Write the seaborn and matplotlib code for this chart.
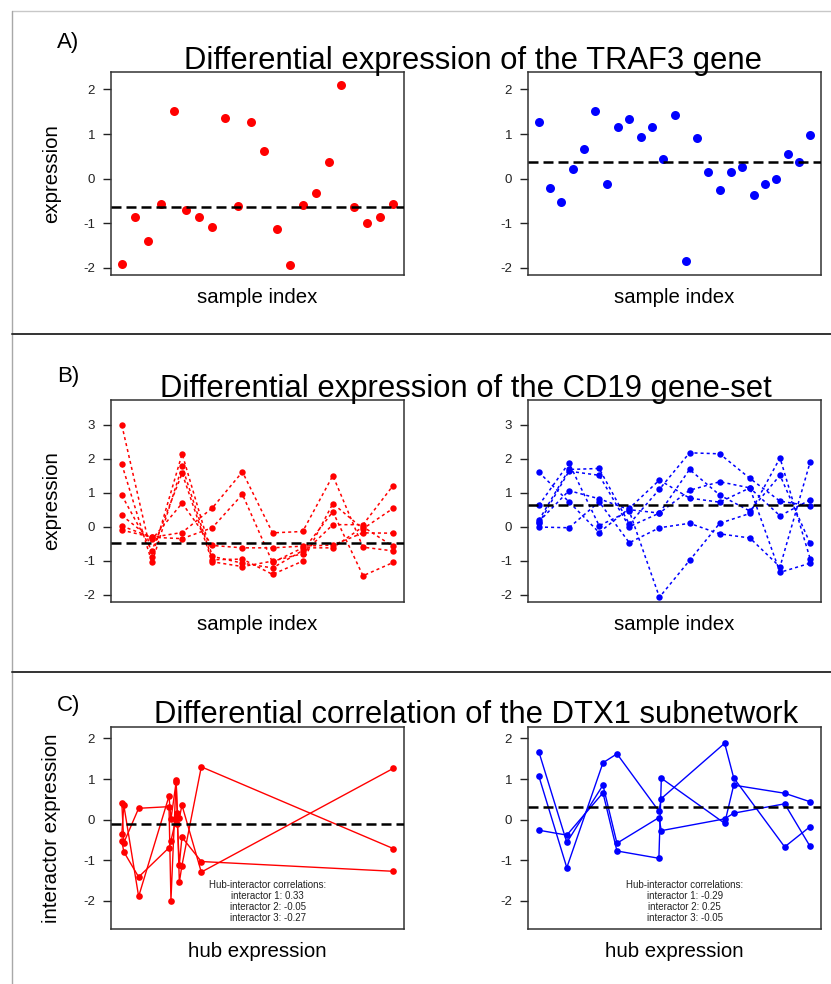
import pandas as pd
import matplotlib.pyplot as plt
from matplotlib.lines import Line2D
import seaborn as sns

# ============ DataSet ============
# A) TRAF3 expression per sample
traf3_red = [-1.91, -0.86, -1.40, -0.56, 1.52, -0.70, -0.87, -1.08, 1.36, -0.61, 1.28,
             0.63, -1.12, -1.94, -0.59, -0.33, 0.38, 2.09, -0.64, -0.99, -0.86, -0.57]
traf3_blue = [1.28, -0.22, -0.52, 0.22, 0.67, 1.52, -0.11, 1.15, 1.33, 0.94, 1.15, 0.45, 1.42,
              -1.84, 0.91, 0.15, -0.25, 0.15, 0.26, -0.36, -0.13, -0.01, 0.55, 0.37, 0.97]
traf3_mid = [-0.63, 0.37]

# B) CD19 gene-set: 6 genes x 10 samples
cd19_red = [
    [2.98, -0.89, 2.14, -0.87, -1.07, -1.21, -0.70, 0.44, -1.44, -1.05],
    [1.83, -1.05, 1.77, -0.97, -0.95, -1.40, -1.01, 0.68, -0.06, 0.54],
    [0.92, -0.70, 1.57, -1.03, -1.17, -1.01, -0.79, 0.06, 0.06, 1.21],
    [0.33, -0.37, 0.69, -0.55, -0.62, -0.62, -0.57, -0.54, -0.18, -0.19],
    [0.02, -0.31, -0.17, 0.55, 1.61, -0.18, -0.14, 1.50, -0.60, -0.71],
    [-0.10, -0.31, -0.35, -0.03, 0.95, -1.05, -0.62, -0.62, 0.00, -0.58],
]
cd19_blue = [
    [1.60, 0.73, -0.17, 0.54, 1.37, 0.84, 0.72, 1.14, 0.32, 0.79],
    [0.63, 1.87, 0.03, 0.46, -2.07, -0.99, 0.10, 0.39, 2.02, -0.94],
    [0.19, 1.68, 1.71, 0.08, 1.10, 2.17, 2.14, 1.42, 0.75, 0.61],
    [0.10, 1.63, 1.51, 0.00, 0.40, 1.68, 0.93, 0.46, 1.51, -0.49],
    [-0.01, -0.03, 0.73, -0.47, -0.03, 0.10, -0.21, -0.33, -1.18, 1.90],
    [0.15, 1.06, 0.82, 0.50, 0.40, 1.07, 1.32, 1.14, -1.34, -1.07],
]
cd19_mid = [-0.47, 0.64]

# C) DTX1 subnetwork: hub expression vs 3 interactors
hub_red = [-1.20, -1.17, -0.94, -0.47, -0.44, -0.36, -0.34, -0.31, -0.27, 0.03, 3.00]
dtx1_red = [
    [0.40, -0.57, 0.28, 0.32, -1.99, 0.98, 0.03, -1.54, -1.13, 1.30, -0.71],
    [-0.35, 0.36, -1.89, 0.58, 0.01, 0.92, 0.16, 0.03, 0.36, -1.29, 1.26],
    [-0.52, -0.79, -1.41, -0.69, -0.52, 0.03, -0.10, -1.11, -0.43, -1.03, -1.27],
]
hub_blue = [-1.60, -1.26, -0.82, -0.65, -0.14, -0.11, 0.66, 0.77, 1.39, 1.70]
dtx1_blue = [
    [-0.26, -0.38, 0.66, -0.77, -0.95, 1.02, -0.09, 0.85, 0.65, 0.44],
    [1.67, -0.56, 0.85, -0.58, 0.05, -0.27, 0.02, 0.16, 0.39, -0.66],
    [1.07, -1.18, 1.40, 1.62, 0.21, 0.52, 1.88, 1.03, -0.67, -0.17],
]
dtx1_mid = [-0.11, 0.31]
corr_red = [0.33, -0.05, -0.27]
corr_blue = [-0.29, 0.25, -0.05]

titles = ["Differential expression of the TRAF3 gene",
          "Differential expression of the CD19 gene-set",
          "Differential correlation of the DTX1 subnetwork"]

# ============ Font Settings ============
sns.set_style('white')
plt.rcParams['font.family'] = ['Liberation Sans', 'DejaVu Sans']
plt.rcParams['axes.unicode_minus'] = False
plt.rcParams['text.color'] = 'black'
plt.rcParams['axes.labelcolor'] = 'black'

RED, BLUE = '#ff0000', '#0000ff'
W, H = 831, 984

fig = plt.figure(figsize=(W / 100, H / 100), dpi=100)


def px_axes(left, top, width, height):
    return fig.add_axes([left / W, 1 - (top + height) / H, width / W, height / H])


def style_ax(ax, xvals, ylim, yticks, mid, xlabel, ylabel=None):
    lo, hi = min(xvals), max(xvals)
    pad = 0.04 * (hi - lo)
    ax.set_xlim(lo - pad, hi + pad)
    ax.set_ylim(ylim)
    ax.set_yticks(yticks)
    ax.set_xticks([])
    ax.axhline(mid, color='black', lw=1.8, dashes=(4, 2), zorder=5)
    for s in ax.spines.values():
        s.set_visible(True)
        s.set_linewidth(1.1)
        s.set_color('#333333')
    ax.tick_params(axis='y', left=True, direction='out', length=5.5, width=1,
                   pad=6, labelsize=9.5, colors='#222222')
    ax.set_xlabel(xlabel, fontsize=14.7)
    ax.xaxis.label.set_va('baseline')
    ax.xaxis.set_label_coords(0.5, -0.137)
    if ylabel:
        ax.set_ylabel(ylabel, fontsize=14.7)
        ax.yaxis.set_label_coords(-0.171, 0.5)
    else:
        ax.set_ylabel('')


def long_frame(xs, series, unit):
    rows = []
    for k, vals in enumerate(series):
        for x, v in zip(xs, vals):
            rows.append({'x': x, 'value': v, unit: k})
    return pd.DataFrame(rows)


# ============ A) TRAF3 ============
for col, (vals, color, left) in enumerate([(traf3_red, RED, 111), (traf3_blue, BLUE, 528)]):
    ax = px_axes(left, 72, 293, 203)
    idx = list(range(1, len(vals) + 1))
    sns.scatterplot(x=idx, y=vals, ax=ax, color=color, s=42, linewidth=0, zorder=3)
    style_ax(ax, idx, (-2.16, 2.39), [-2, -1, 0, 1, 2], traf3_mid[col],
             'sample index', 'expression' if col == 0 else None)

# ============ B) CD19 ============
for col, (genes, color, left) in enumerate([(cd19_red, RED, 111), (cd19_blue, BLUE, 528)]):
    ax = px_axes(left, 400, 293, 202)
    samples = list(range(1, len(genes[0]) + 1))
    df = long_frame(samples, genes, 'gene')
    sns.lineplot(data=df, x='x', y='value', units='gene', estimator=None, sort=False,
                 color=color, linestyle=(0, (2, 2)), linewidth=1.1, marker='o',
                 markersize=4.6, markeredgewidth=0, legend=False, ax=ax)
    style_ax(ax, samples, (-2.21, 3.72), [-2, -1, 0, 1, 2, 3], cd19_mid[col],
             'sample index', 'expression' if col == 0 else None)

# ============ C) DTX1 ============
for col, (hub, inter, corr, color, left) in enumerate(
        [(hub_red, dtx1_red, corr_red, RED, 111), (hub_blue, dtx1_blue, corr_blue, BLUE, 528)]):
    ax = px_axes(left, 727, 293, 202)
    df = long_frame(hub, inter, 'interactor')
    sns.lineplot(data=df, x='x', y='value', units='interactor', estimator=None, sort=True,
                 color=color, linewidth=1.0, marker='o', markersize=4.8,
                 markeredgewidth=0, legend=False, ax=ax)
    style_ax(ax, hub, (-2.69, 2.28), [-2, -1, 0, 1, 2], dtx1_mid[col],
             'hub expression', 'interactor expression' if col == 0 else None)
    note = "Hub-interactor correlations:\n" + "\n".join(
        f"interactor {i + 1}: {c:.2f}" for i, c in enumerate(corr))
    ax.text(0.535, 0.135, note, transform=ax.transAxes, ha='center', va='center',
            fontsize=7, linespacing=1.14, color='#222222')

# ============ Titles, panel letters and frame ============
for title, cx, base in zip(titles, [473, 466, 476], [69.5, 397, 723]):
    fig.text(cx / W, 1 - base / H, title, ha='center', va='baseline', fontsize=22.3,
             color='black')
for letter, base in zip(['A)', 'B)', 'C)'], [47.7, 381.7, 710.7]):
    fig.text(57 / W, 1 - base / H, letter, ha='left', va='baseline', fontsize=16,
             color='black')

x0 = 12 / W
fig.add_artist(Line2D([x0, 1], [1 - 11 / H, 1 - 11 / H], transform=fig.transFigure,
                      color='#c8c8c8', lw=1))
fig.add_artist(Line2D([x0, x0], [0, 1 - 11 / H], transform=fig.transFigure,
                      color='#a8a8a8', lw=1))
for yy in [334, 672]:
    fig.add_artist(Line2D([x0, 1], [1 - yy / H, 1 - yy / H], transform=fig.transFigure,
                          color='#333333', lw=1.4))

fig.savefig('out.png', dpi=100)
